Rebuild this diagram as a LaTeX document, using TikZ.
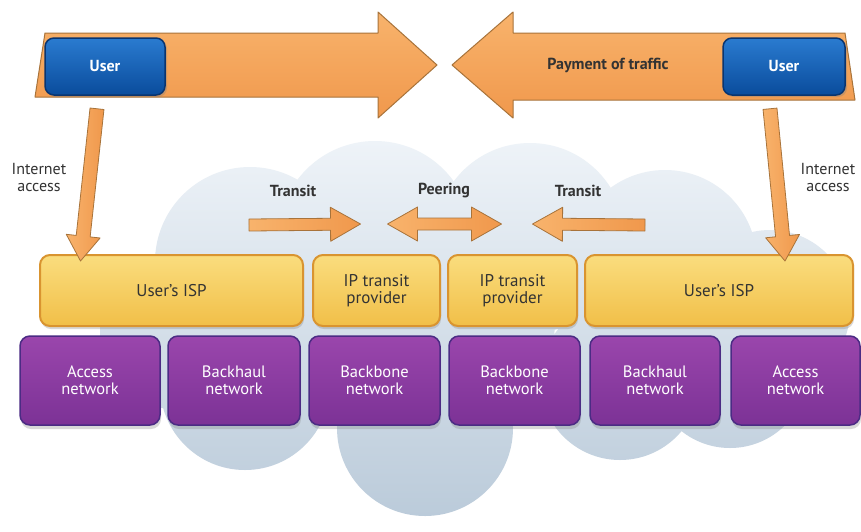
\documentclass[tikz,border=0pt]{standalone}
\usepackage{fontspec}
\setmainfont{PT Sans}
\usetikzlibrary{calc,shadows}
\definecolor{orF}{HTML}{F5A65E}
\definecolor{orT}{HTML}{F8B36C}
\definecolor{orB}{HTML}{F0984C}
\definecolor{orD}{HTML}{A8733A}
\definecolor{blT}{HTML}{2A7BD0}
\definecolor{blB}{HTML}{0A4C9C}
\definecolor{blD}{HTML}{0A3570}
\definecolor{yeT}{HTML}{FADD7E}
\definecolor{yeB}{HTML}{F1BF48}
\definecolor{yeD}{HTML}{D99430}
\definecolor{puT}{HTML}{9A46AC}
\definecolor{puB}{HTML}{7C3296}
\definecolor{puD}{HTML}{4B2B84}
\definecolor{clT}{HTML}{EEF3F8}
\definecolor{clB}{HTML}{BBCBDA}
\definecolor{txt}{HTML}{333333}
\newcommand\fatarrow[6]{%
  \path ($(#3)!#6pt!(#2)$) coordinate (fah);
  \path[#1] ($(#2)!#4pt!90:(#3)$) -- ($(fah)!#4pt!90:(#3)$) -- ($(fah)!#5pt!90:(#3)$) -- (#3)
    -- ($(fah)!#5pt!-90:(#3)$) -- ($(fah)!#4pt!-90:(#3)$) -- ($(#2)!#4pt!-90:(#3)$) -- cycle;
}
\newcommand\dblarrow[6]{%
  \path ($(#2)!#6pt!(#3)$) coordinate (dha);
  \path ($(#3)!#6pt!(#2)$) coordinate (dhb);
  \path[#1] (#2) -- ($(dha)!#5pt!90:(#3)$) -- ($(dha)!#4pt!90:(#3)$) -- ($(dhb)!#4pt!-90:(#2)$)
    -- ($(dhb)!#5pt!-90:(#2)$) -- (#3) -- ($(dhb)!#5pt!90:(#2)$) -- ($(dhb)!#4pt!90:(#2)$)
    -- ($(dha)!#4pt!-90:(#3)$) -- ($(dha)!#5pt!-90:(#3)$) -- cycle;
}
\tikzset{
  orarrow/.style={draw=orD, line width=1pt, top color=orT, bottom color=orB, line join=round},
  smallarrow/.style={draw=orD, line width=0.8pt, left color=orT, right color=orB, line join=round},
  userbox/.style={draw=blD, line width=1.5pt, rounded corners=9pt, top color=blT, bottom color=blB,
    text=white, font=\fontsize{16}{18}\selectfont\bfseries,
    drop shadow={shadow xshift=2pt, shadow yshift=-2pt, opacity=.35}},
  ybox/.style={draw=yeD, line width=2pt, rounded corners=10pt, top color=yeT, bottom color=yeB,
    text=txt, align=center, font=\fontsize{17}{17}\selectfont, minimum height=71pt,
    drop shadow={shadow xshift=1pt, shadow yshift=-3pt, opacity=.3}},
  pbox/.style={draw=puD, line width=1.5pt, rounded corners=10pt, top color=puT, bottom color=puB,
    text=white, align=center, font=\fontsize{16.5}{17}\selectfont, minimum height=89pt,
    drop shadow={shadow xshift=1pt, shadow yshift=-4pt, opacity=.3}},
  lbl/.style={text=txt, align=center, font=\fontsize{16}{17}\selectfont},
  blbl/.style={text=txt, font=\fontsize{16}{18}\selectfont\bfseries},
}
\begin{document}
\begin{tikzpicture}[x=1pt,y=1pt]
\useasboundingbox[fill=white] (0,0) rectangle (861,-531);
% cloud
\path[top color=clT, bottom color=clB]
  (250,-262) circle (95pt) (375,-238) circle (97pt) (530,-238) circle (95pt)
  (665,-262) circle (92pt) (770,-310) circle (80pt) (180,-330) circle (80pt)
  (245,-385) circle (85pt) (425,-428) circle (88pt) (620,-380) circle (80pt)
  (730,-370) circle (78pt) (430,-320) circle (125pt);
% big arrows
\path[orarrow] (45,-33) -- (378,-33) -- (378,-12) -- (437,-65) -- (378,-118) -- (378,-97) -- (35,-97) -- cycle;
\path[orarrow] (452,-65) -- (513,-12) -- (513,-33) -- (845,-33) -- (855,-100) -- (513,-100) -- (513,-118) -- cycle;
\node[userbox, minimum width=120pt, minimum height=57pt] (userL) at (105,-66.5) {User};
\node[userbox, minimum width=122pt, minimum height=57pt] (userR) at (784,-66.5) {User};
\node[blbl, text=black!80] (pay) at (608,-65) {Payment of traffic};
% boxes
\node[ybox, minimum width=263pt] (ispL) at (171.5,-290.5) {User's ISP};
\node[ybox, minimum width=127pt] (ip1) at (376.5,-290.5) {IP transit\\provider};
\node[ybox, minimum width=129pt] (ip2) at (512.5,-290.5) {IP transit\\provider};
\node[ybox, minimum width=268pt] (ispR) at (719,-290.5) {User's ISP};
\node[pbox, minimum width=140pt] (p1) at (90,-380.5) {Access\\network};
\node[pbox, minimum width=132pt] (p2) at (234,-380.5) {Backhaul\\network};
\node[pbox, minimum width=131pt] (p3) at (374.5,-380.5) {Backbone\\network};
\node[pbox, minimum width=131pt] (p4) at (514.5,-380.5) {Backbone\\network};
\node[pbox, minimum width=130pt] (p5) at (655,-380.5) {Backhaul\\network};
\node[pbox, minimum width=129pt] (p6) at (795.5,-380.5) {Access\\network};
% down arrows
\coordinate (dLa) at ($(userL.south)+(-8,-13)$);
\coordinate (dLb) at ($(ispL.north)+(-91,-7)$);
\coordinate (dRa) at ($(userR.south)+(-14,-13)$);
\coordinate (dRb) at ($(ispR.north)+(66,-7)$);
\fatarrow{smallarrow}{dLa}{dLb}{7}{17}{25}
\fatarrow{smallarrow}{dRa}{dRb}{7}{17}{25}
\node[lbl] (ia1) at (39,-177) {Internet\\access};
\node[lbl] (ia2) at (828,-177) {Internet\\access};
% transit / peering
\coordinate (t1a) at (249,-225);
\coordinate (t1b) at ($(ip1.north)+(-16,30)$);
\coordinate (t2a) at (645,-225);
\coordinate (t2b) at ($(ip2.north)+(20,30)$);
\coordinate (pa) at ($(ip1.north)+(11,30)$);
\coordinate (pb) at ($(ip2.north)+(-11,30)$);
\fatarrow{smallarrow}{t1a}{t1b}{6}{17}{30}
\fatarrow{smallarrow}{t2a}{t2b}{6}{17}{30}
\dblarrow{smallarrow}{pa}{pb}{6}{17}{30}
\node[blbl] (tr1) at (293,-191) {Transit};
\node[blbl] (peer) at (444,-191) {Peering};
\node[blbl] (tr2) at (578,-191) {Transit};
\end{tikzpicture}
\end{document}
